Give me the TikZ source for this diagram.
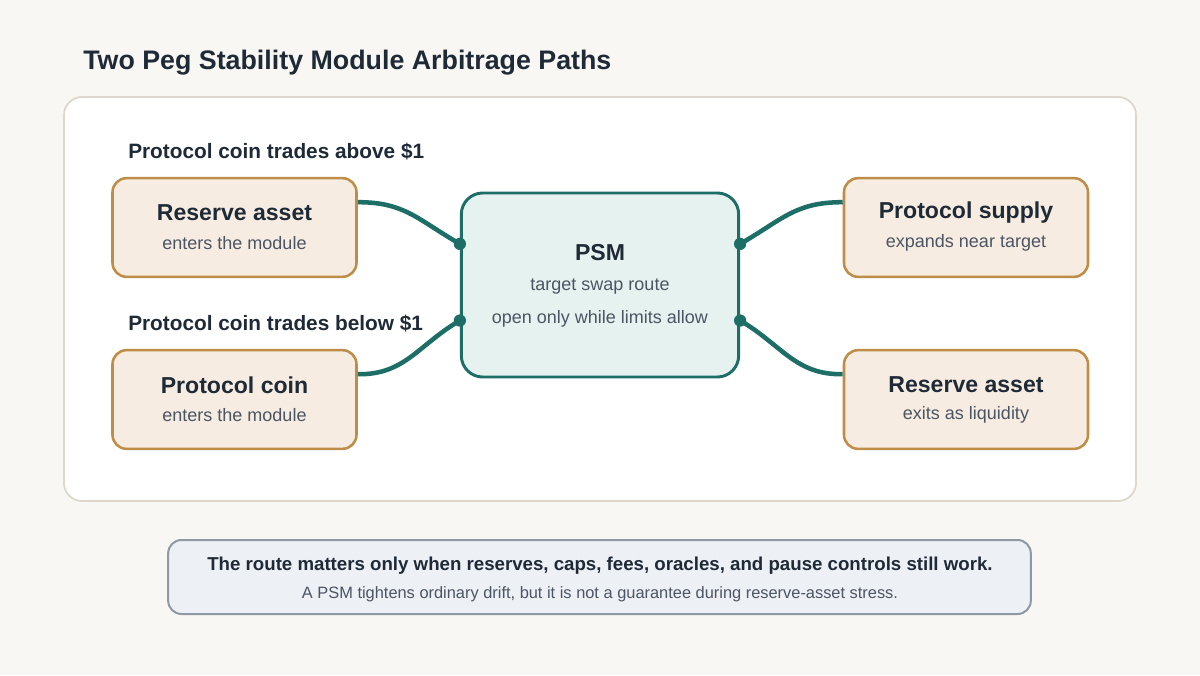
\documentclass[tikz,border=0pt]{standalone}
\usepackage{fontspec}
\setmainfont{Liberation Sans}
\usetikzlibrary{calc}
\definecolor{bgc}{HTML}{F9F7F3}
\definecolor{panelborder}{HTML}{DDD6CB}
\definecolor{tan}{HTML}{F6ECE1}
\definecolor{tanborder}{HTML}{BE8E48}
\definecolor{teal}{HTML}{1E6E68}
\definecolor{tealfill}{HTML}{E5F2EF}
\definecolor{ink}{HTML}{1F2A37}
\definecolor{subink}{HTML}{4B5563}
\definecolor{notefill}{HTML}{EDF0F5}
\definecolor{noteborder}{HTML}{8E99A4}
\tikzset{
  sidebox/.style={draw=tanborder, fill=tan, line width=1.9pt, rounded corners=10.5pt,
    minimum width=183pt, minimum height=74pt, inner sep=0pt},
  psmbox/.style={draw=teal, fill=tealfill, line width=2.2pt, rounded corners=16pt,
    minimum width=208pt, minimum height=138pt, inner sep=0pt},
  boxtitle/.style={text=ink, font=\bfseries\fontsize{17.3}{20}\selectfont, inner sep=0pt},
  boxsub/.style={text=subink, font=\fontsize{13.5}{16}\selectfont, inner sep=0pt},
  sectlabel/.style={text=ink, font=\bfseries\fontsize{15.6}{18}\selectfont, anchor=west, inner sep=0pt},
  link/.style={draw=teal, line width=3.4pt},
  dot/.style={fill=teal},
}
\begin{document}
\begin{tikzpicture}[x=0.75pt,y=-0.75pt]
\fill[bgc] (0,0) rectangle (1200,675);
\useasboundingbox (0,0) rectangle (1200,675);

\node[anchor=west, text=ink, font=\bfseries\fontsize{20.1}{23}\selectfont, inner sep=0pt] (title) at (83,63) {Two Peg Stability Module Arbitrage Paths};

\draw[panelborder, fill=white, line width=1.3pt, rounded corners=13.5pt] (64,97) rectangle (1136,501);

\node[sectlabel] (above) at (128,152) {Protocol coin trades above \$1};
\node[sectlabel] (below) at (128,324) {Protocol coin trades below \$1};

\node[sidebox] (l1) at (234.5,227.5) {};
\node[boxtitle] (l1t) at (234.5,213) {Reserve asset};
\node[boxsub] (l1s) at (234.5,243) {enters the module};

\node[sidebox] (l2) at (234.5,399.5) {};
\node[boxtitle] (l2t) at (234.5,385) {Protocol coin};
\node[boxsub] (l2s) at (234.5,415) {enters the module};

\node[psmbox] (psm) at (600,285) {};
\node[boxtitle] (psmt) at (600,253) {PSM};
\node[boxsub] (psm1) at (600,287) {target swap route};
\node[boxsub] (psm2) at (600,319) {open only while limits allow};

\node[sidebox] (r1) at (966,227.5) {};
\node[boxtitle] (r1t) at (966,213) {Protocol supply};
\node[boxsub] (r1s) at (966,243) {expands near target};

\node[sidebox] (r2) at (966,399.5) {};
\node[boxtitle] (r2t) at (966,385) {Reserve asset};
\node[boxsub] (r2s) at (966,415) {exits as liquidity};

% connectors
\coordinate (pl1) at ($(psm.north west)!0.28!(psm.south west)$);
\coordinate (pl2) at ($(psm.north west)!0.69!(psm.south west)$);
\coordinate (pr1) at ($(psm.north east)!0.28!(psm.south east)$);
\coordinate (pr2) at ($(psm.north east)!0.69!(psm.south east)$);
\coordinate (l1a) at ($(l1.north east)!0.25!(l1.south east)$);
\coordinate (l2a) at ($(l2.north east)!0.25!(l2.south east)$);
\coordinate (r1a) at ($(r1.north west)!0.25!(r1.south west)$);
\coordinate (r2a) at ($(r2.north west)!0.25!(r2.south west)$);

\draw[link] (l1a) .. controls (405,202) and (418,220) .. (pl1);
\draw[link] (l2a) .. controls (405,375) and (418,345) .. (pl2);
\draw[link] (pr1) .. controls (782,220) and (795,202) .. (r1a);
\draw[link] (pr2) .. controls (782,345) and (795,375) .. (r2a);
\fill[dot] (pl1) circle (4.6pt);
\fill[dot] (pl2) circle (4.6pt);
\fill[dot] (pr1) circle (4.6pt);
\fill[dot] (pr2) circle (4.6pt);

% note
\node[draw=noteborder, fill=notefill, line width=1.5pt, rounded corners=10pt,
  minimum width=647pt, minimum height=55.5pt, inner sep=0pt] (note) at (599.5,577) {};
\node[text=ink, font=\bfseries\fontsize{14}{16}\selectfont, inner sep=0pt] (note1) at (600,566) {The route matters only when reserves, caps, fees, oracles, and pause controls still work.};
\node[text=subink, font=\fontsize{12.3}{14}\selectfont, inner sep=0pt] (note2) at (600,594) {A PSM tightens ordinary drift, but it is not a guarantee during reserve-asset stress.};
\end{tikzpicture}
\end{document}
